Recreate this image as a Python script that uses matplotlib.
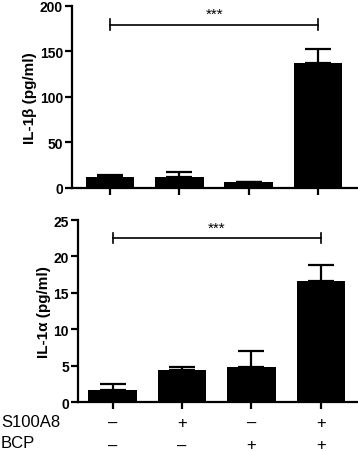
import numpy as np
import matplotlib.pyplot as plt

plt.rcParams['font.family'] = ['Liberation Sans', 'DejaVu Sans']

groups = [0, 1, 2, 3]
il1b_mean = [12, 12, 6, 137]
il1b_err = [2, 6, 1, 16]
il1a_mean = [1.7, 4.4, 4.8, 16.6]
il1a_err = [0.8, 0.4, 2.2, 2.2]
s100a8 = ['\u2013', '+', '\u2013', '+']
bcp = ['\u2013', '\u2013', '+', '+']

fig = plt.figure(figsize=(3.58, 4.52), dpi=100)
ax1 = fig.add_axes([0.201, 0.582, 0.796, 0.403])
ax2 = fig.add_axes([0.218, 0.108, 0.779, 0.403])


def style(ax):
    for s in ['top', 'right']:
        ax.spines[s].set_visible(False)
    for s in ['left', 'bottom']:
        ax.spines[s].set_linewidth(1.6)
    ax.tick_params(width=1.6, length=5, labelsize=10, pad=1.5)
    for lab in ax.get_yticklabels():
        lab.set_fontweight('bold')


def bracket(ax, x0, x1, y, h, txt):
    ax.plot([x0, x1], [y, y], color='black', lw=1.2)
    ax.plot([x0, x0], [y - h, y + h], color='black', lw=1.2)
    ax.plot([x1, x1], [y - h, y + h], color='black', lw=1.2)
    ax.text((x0 + x1) / 2, y + h * 0.7, txt, ha='center', va='bottom', fontsize=11)


ax1.bar(groups, il1b_mean, width=0.7, color='black')
ax1.errorbar(groups, il1b_mean, yerr=[[0] * 4, il1b_err], fmt='none', ecolor='black',
             elinewidth=1.6, capsize=9.5, capthick=1.6)
ax1.set_ylim(0, 200)
ax1.set_yticks([0, 50, 100, 150, 200])
ax1.set_xlim(-0.55, 3.56)
ax1.set_xticks(groups)
ax1.set_xticklabels([])
ax1.set_ylabel('IL-1\u03b2 (pg/ml)', fontsize=11, fontweight='bold', labelpad=2)
bracket(ax1, 0, 3, 179, 6, '***')
style(ax1)

ax2.bar(groups, il1a_mean, width=0.7, color='black')
ax2.errorbar(groups, il1a_mean, yerr=[[0] * 4, il1a_err], fmt='none', ecolor='black',
             elinewidth=1.6, capsize=9.5, capthick=1.6)
ax2.set_ylim(0, 25)
ax2.set_yticks([0, 5, 10, 15, 20, 25])
ax2.set_xlim(-0.5, 3.52)
ax2.set_xticks(groups)
ax2.set_xticklabels([])
ax2.set_ylabel('IL-1\u03b1 (pg/ml)', fontsize=11, fontweight='bold', labelpad=2)
bracket(ax2, 0, 3, 22.5, 0.7, '***')
style(ax2)

for i in groups:
    ax2.text(i, -0.11, s100a8[i], transform=ax2.get_xaxis_transform(),
             ha='center', va='center', fontsize=12)
    ax2.text(i, -0.235, bcp[i], transform=ax2.get_xaxis_transform(),
             ha='center', va='center', fontsize=12)
fig.text(0.003, 1 - 423 / 452, 'S100A8', ha='left', va='center', fontsize=12)
fig.text(0.003, 1 - 444 / 452, 'BCP', ha='left', va='center', fontsize=12)

fig.savefig('out.png', dpi=100)
